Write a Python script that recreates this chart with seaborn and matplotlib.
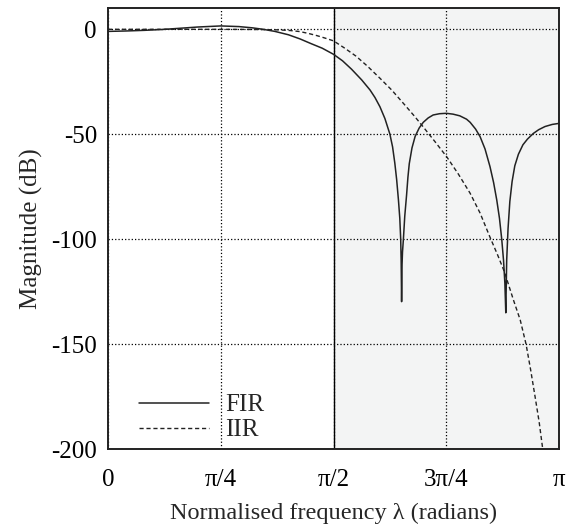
import matplotlib
matplotlib.use("Agg")
import matplotlib.pyplot as plt
import pandas as pd
import seaborn as sb
import numpy as np

# frequency in fractions of pi, magnitude in dB
fir_x = [0.00, 0.04, 0.08, 0.12, 0.16, 0.20, 0.25, 0.29, 0.32, 0.344, 0.37, 0.40,
         0.426, 0.45, 0.475, 0.50, 0.52, 0.54, 0.5625, 0.581, 0.592, 0.603, 0.614,
         0.625, 0.631, 0.636, 0.640, 0.644, 0.647, 0.649, 0.650, 0.651, 0.652,
         0.653, 0.655, 0.658, 0.662, 0.665, 0.668, 0.674, 0.681, 0.69, 0.699,
         0.71, 0.721, 0.735, 0.75, 0.765, 0.78, 0.795, 0.803, 0.815, 0.825,
         0.836, 0.847, 0.855, 0.862, 0.868, 0.873, 0.877, 0.880, 0.882, 0.884,
         0.887, 0.891, 0.896, 0.902, 0.91, 0.92, 0.93, 0.943, 0.955, 0.969,
         0.985, 1.0]
fir_db = [-1.0, -0.8, -0.5, -0.1, 0.5, 1.1, 1.6, 1.3, 0.7, 0.0, -1.0, -2.6,
          -4.6, -6.8, -9.0, -11.9, -15.0, -19.0, -24.1, -28.9, -32.5, -36.9, -42.5,
          -49.9, -56.0, -63.8, -71.5, -81.3, -90.0, -99.9, -110.0, -129.7, -112.0,
          -106.0, -99.9, -89.0, -79.0, -70.5, -64.0, -56.5, -51.0, -47.0, -44.3,
          -42.2, -40.8, -40.2, -40.0, -40.4, -41.2, -42.8, -44.3, -47.5, -51.1,
          -57.0, -65.4, -73.0, -81.3, -90.0, -99.9, -110.0, -121.0, -135.0, -110.0,
          -95.0, -82.0, -72.5, -65.0, -59.5, -55.0, -52.3, -49.6, -47.8, -46.3,
          -45.3, -44.8]

iir_x = [0.0, 0.1, 0.2, 0.3, 0.35, 0.381, 0.405, 0.426, 0.445, 0.463, 0.48, 0.50,
         0.525, 0.55, 0.575, 0.603, 0.629, 0.66, 0.68, 0.699, 0.725, 0.751, 0.777,
         0.803, 0.825, 0.847, 0.864, 0.879, 0.899, 0.914, 0.927, 0.937, 0.947,
         0.956, 0.964]
iir_db = [0.0, 0.0, 0.0, -0.05, -0.15, -0.3, -0.6, -1.1, -2.0, -3.0, -4.1, -5.5,
          -9.0, -12.8, -17.5, -23.3, -28.9, -36.5, -41.5, -46.5, -53.5, -60.7, -69.0,
          -78.1, -87.5, -99.0, -107.5, -115.5, -128.9, -138.4, -150.0, -162.0, -175.0,
          -187.0, -200.0]

xticks = [0, np.pi/4, np.pi/2, 3*np.pi/4, np.pi]
xticklabels = ["0", "\u03c0/4", "\u03c0/2", "3\u03c0/4", "\u03c0"]
yticks = [0, -50, -100, -150, -200]

fir = pd.DataFrame({"w": np.pi*np.array(fir_x), "db": fir_db})
iir = pd.DataFrame({"w": np.pi*np.array(iir_x), "db": iir_db})

sb.set_style("white")
plt.rcParams["font.family"] = ["Liberation Serif", "DejaVu Serif"]
plt.rcParams["axes.unicode_minus"] = False

fig = plt.figure(figsize=(5.74, 5.30), dpi=100)
ax = fig.add_axes([108/574, 1-449.3/530, 451/574, 441/530])

# shaded stop band
ax.axvspan(np.pi/2, np.pi, color="#f3f4f4", zorder=0, lw=0)
ax.axvline(np.pi/2, color="black", lw=1.0, zorder=1)

sb.lineplot(data=fir, x="w", y="db", ax=ax, color="#222222", lw=1.1,
            estimator=None, sort=False, label="FIR")
sb.lineplot(data=iir, x="w", y="db", ax=ax, color="#222222", lw=1.0,
            estimator=None, sort=False, label="IIR")
ax.lines[-1].set_dashes((3, 2))

ax.set_xlim(0, np.pi)
ax.set_ylim(-200, 10)
ax.set_xticks(xticks)
ax.set_xticklabels(xticklabels)
ax.set_yticks(yticks)
ax.grid(True, color="black", ls=":", lw=0.9)
ax.set_axisbelow(True)

ax.tick_params(direction="in", length=6, width=1, labelsize=18, colors="black")
ax.tick_params(axis="y", pad=8)
ax.tick_params(axis="x", pad=14)
for s in ax.spines.values():
    s.set_color("#222222")
    s.set_linewidth(1.4)

ax.set_xlabel("Normalised frequency \u03bb (radians)", fontsize=17.5, labelpad=9)
ax.set_ylabel("Magnitude (dB)", fontsize=18, labelpad=6)

leg = ax.legend(loc="lower left", bbox_to_anchor=(0.069, 0.018), frameon=False,
                fontsize=18, handlelength=2.8, handletextpad=0.65, labelspacing=0.1,
                borderpad=0, borderaxespad=0)

plt.savefig("out.png", dpi=100)
